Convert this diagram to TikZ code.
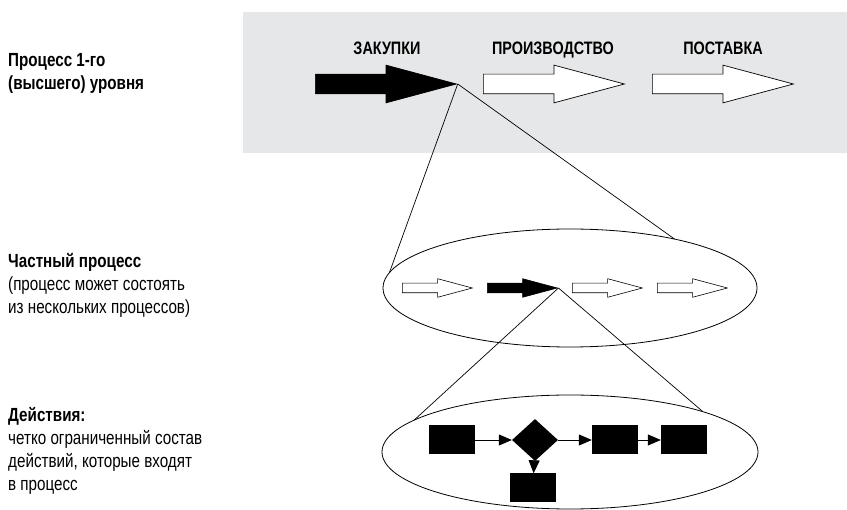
\documentclass[tikz,border=0pt]{standalone}
\usepackage{fontspec}
\setmainfont{Liberation Sans}[FakeStretch=0.8]
\usetikzlibrary{shapes.arrows,shapes.geometric,arrows.meta,calc}
\definecolor{panelgray}{HTML}{E6E7E8}
\tikzset{
  bigarrow/.style={single arrow, draw=black, line width=0.7pt, fill=#1,
    inner xsep=0pt, inner ysep=9.5pt, minimum height=141pt,
    single arrow head extend=9pt, single arrow tip angle=30, anchor=tail},
  smallarrow/.style={single arrow, draw=black, line width=0.6pt, fill=#1,
    inner xsep=0pt, inner ysep=4.5pt, minimum height=70pt,
    single arrow head extend=4.5pt, single arrow tip angle=30, anchor=tail},
  stagelabel/.style={font=\bfseries\fontsize{18}{20}\selectfont, inner sep=0pt, anchor=base},
  note/.style={anchor=north west, align=left, inner sep=0pt,
    font=\fontsize{19}{23}\selectfont},
  zoomring/.style={ellipse, draw, line width=0.8pt, inner sep=0pt},
  actbox/.style={rectangle, fill=black, minimum width=46pt, minimum height=29pt, inner sep=0pt},
  decision/.style={diamond, fill=black, minimum width=46pt, minimum height=42pt, inner sep=0pt},
  flow/.style={-{Triangle[length=13pt,width=11pt]}, line width=0.8pt},
  zoomline/.style={line width=0.7pt}
}

\begin{document}
\begin{tikzpicture}[x=1pt,y=-1pt]
\useasboundingbox (0,0) rectangle (847,510);
\fill[panelgray] (243,12) rectangle (847,153);
\node[note] (lvl1) at (8,53) {\textbf{Процесс 1-го}\\\textbf{(высшего) уровня}};
\node[note] (lvl2) at (8,253) {\textbf{Частный процесс}\\(процесс может состоять\\из нескольких процессов)};
\node[note] (lvl3) at (8,407) {\textbf{Действия:}\\четко ограниченный состав\\действий, которые входят\\в процесс};
\node[stagelabel] (lbl-buy) at (387,55) {ЗАКУПКИ};
\node[stagelabel] (lbl-make) at (553,55) {ПРОИЗВОДСТВО};
\node[stagelabel] (lbl-ship) at (723,55) {ПОСТАВКА};
\node[bigarrow=black] (buy) at (315,84) {};
\node[bigarrow=white] (make) at (483,84) {};
\node[bigarrow=white] (ship) at (652,84) {};
\node[zoomring, minimum width=374pt, minimum height=118pt] (sub) at (570,288) {};
\node[smallarrow=white] (s1) at (402,288) {};
\node[smallarrow=black] (s2) at (487,288) {};
\node[smallarrow=white] (s3) at (572,288) {};
\node[smallarrow=white] (s4) at (657,288) {};
\node[zoomring, minimum width=376pt, minimum height=114pt] (act) at (570,452) {};
\coordinate (sub-l) at ($(sub.center)+(195:187 and 59)$);
\coordinate (sub-r) at ($(sub.center)+(304:187 and 59)$);
\coordinate (act-l) at ($(act.center)+(214:188 and 57)$);
\coordinate (act-r) at ($(act.center)+(315:188 and 57)$);
\draw[zoomline] (buy.tip) -- (sub-l) (buy.tip) -- (sub-r);
\draw[zoomline] (s2.tip) -- (act-l) (s2.tip) -- (act-r);
\node[actbox] (a1) at (452,440) {};
\node[decision] (d1) at (535,440) {};
\node[actbox] (a2) at (533,488) {};
\node[actbox] (a3) at (615,440) {};
\node[actbox] (a4) at (684,440) {};
\draw[flow] (a1) -- (d1);
\draw[flow] (d1) -- (a2);
\draw[flow] (d1) -- (a3);
\draw[flow] (a3) -- (a4);
\end{tikzpicture}
\end{document}
